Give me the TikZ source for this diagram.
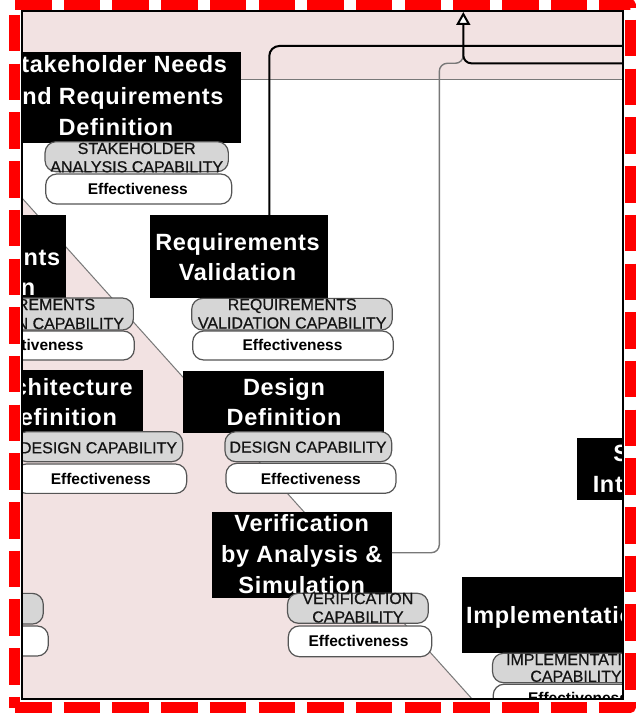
\documentclass[tikz,border=0pt]{standalone}
\usepackage{fontspec}
\setmainfont{Liberation Sans}
\newfontfamily\titlefam[LetterSpace=3.0]{Liberation Sans}
\newfontfamily\capfam[FakeBold=0.6]{Liberation Sans}
\usetikzlibrary{arrows.meta,calc}

\definecolor{bandpink}{RGB}{242,226,226}
\definecolor{capfill}{RGB}{214,214,214}
\definecolor{boxedge}{RGB}{85,85,85}
\definecolor{captxt}{RGB}{20,20,20}
\definecolor{zoneline}{RGB}{120,120,120}
\definecolor{feedline}{RGB}{120,120,120}
\definecolor{selred}{RGB}{255,0,0}

\tikzset{
  procbox/.style={fill=black, draw=none, inner sep=0pt},
  proctext/.style={text=white, inner sep=0pt, anchor=base},
  capbox/.style={fill=capfill, draw=boxedge, line width=1.2pt, rounded corners=11pt, inner sep=0pt},
  captext/.style={text=captxt, inner sep=0pt, anchor=base},
  effbox/.style={fill=white, draw=boxedge, line width=1.2pt, rounded corners=11pt, inner sep=0pt},
  efftext/.style={text=black, inner sep=0pt, anchor=base, font=\bfseries\fontsize{15.5}{18}\selectfont},
  flow/.style={draw=black, line width=2pt},
  feedback/.style={draw=feedline, line width=1.4pt},
  selborder/.style={draw=selred, line width=11pt},
  seldash/.style={selborder, dash pattern=on 36.5pt off 12.2pt},
}

% black process box: name, cx, cy, width, height
\newcommand\procbox[5]{\node[procbox, minimum width=#4pt, minimum height=#5pt] (#1) at (#2,#3) {};}
% process title: [line spacing], name, cx, first baseline, lines
\newcommand\proctitle[5][30.5]{\node[proctext, font=\titlefam\bfseries\fontsize{23.5}{#1}\selectfont] (#2) at (#3,#4) {\begin{tabular}[t]{@{}c@{}}#5\end{tabular}};}
% grey capability box, text clipped to its outline:
% [line spacing], name, cx, cy, width, height, text cx, first baseline, lines
\newcommand\capbox[9][18.6]{%
  \node[capbox, minimum width=#5pt, minimum height=#6pt] (#2) at (#3,#4) {};
  \begin{scope}
    \clip[rounded corners=11pt] (#2.south west) rectangle (#2.north east);
    \node[captext, font=\capfam\fontsize{16}{#1}\selectfont] (#2-t) at (#7,#8) {\begin{tabular}[t]{@{}c@{}}#9\end{tabular}};
  \end{scope}}
% white effectiveness box: name, cx, cy, width, height, text cx, baseline, text
\newcommand\effbox[8]{%
  \node[effbox, minimum width=#4pt, minimum height=#5pt] (#1) at (#2,#3) {};
  \node[efftext] (#1-t) at (#6,#7) {#8};}

\begin{document}
\begin{tikzpicture}[x=1pt,y=-1pt]
\useasboundingbox (0,0) rectangle (641,714);
\fill[white] (0,0) rectangle (641,714);

\begin{scope}
  \clip (21.8,11) rectangle (623,699.3);

  % swim-lane shading
  \fill[bandpink] (21.8,11) rectangle (623,80);
  \draw[zoneline, line width=1pt] (21.8,80) -- (623,80);
  \fill[bandpink] (-10,162.4) -- (490,718.9) -- (-10,718.9) -- cycle;
  \draw[zoneline, line width=1pt] (-10,162.4) -- (490,718.9);

  % Stakeholder Needs and Requirements Definition
  \procbox{snrd}{114.9}{97.5}{251.7}{90.4}
  \proctitle[31.6]{snrd-t}{116}{72.7}{Stakeholder Needs\\and Requirements\\Definition}
  \capbox[18.3]{snrd-c}{136.7}{156.7}{183.3}{30}{136.7}{154}{STAKEHOLDER\\ANALYSIS CAPABILITY}
  \effbox{snrd-e}{138.7}{189}{186}{30}{137.8}{194}{Effectiveness}

  % System Requirements Definition
  \procbox{srd}{-22}{256.5}{175.4}{83}
  \proctitle{srd-t}{-22}{265}{Requirements\\Definition}
  \capbox[19]{srd-c}{30.7}{314}{205.3}{32}{30.7}{310}{REQUIREMENTS\\DEFINITION CAPABILITY}
  \effbox{srd-e}{33.5}{345.5}{201.6}{29}{33.5}{350}{Effectiveness}

  % Requirements Validation
  \procbox{rv}{239.2}{256.7}{178.3}{83.3}
  \proctitle{rv-t}{237.5}{250}{Requirements\\Validation}
  \capbox[18.5]{rv-c}{292}{314.2}{200.6}{31.7}{292.2}{310}{REQUIREMENTS\\VALIDATION CAPABILITY}
  \effbox{rv-e}{293}{345.5}{200.6}{29}{292.5}{350}{Effectiveness}

  % Architecture Definition
  \procbox{ad}{58}{400.8}{169.4}{61.7}
  \proctitle{ad-t}{59.5}{395}{Architecture\\Definition}
  \capbox{ad-c}{99.3}{446.7}{166.7}{30}{98.5}{453.3}{DESIGN CAPABILITY}
  \effbox{ad-e}{100.8}{478.7}{171.7}{29.3}{100.8}{484}{Effectiveness}

  % Design Definition
  \procbox{dd}{283.7}{402.2}{200.7}{62.3}
  \proctitle{dd-t}{284}{395}{Design\\Definition}
  \capbox{dd-c}{308.3}{446.7}{166.7}{30}{308}{452.7}{DESIGN CAPABILITY}
  \effbox{dd-e}{311}{478.3}{170}{30}{310.8}{484}{Effectiveness}

  % Verification by Analysis & Simulation
  \procbox{vas}{302}{555}{179.4}{86.6}
  \proctitle[30.8]{vas-t}{301.7}{531.7}{Verification\\by Analysis \&\\Simulation}
  \capbox[18.5]{vas-c}{357.9}{608.3}{140.8}{30}{357.9}{604}{VERIFICATION\\CAPABILITY}
  \effbox{vas-e}{360}{641.3}{143.4}{30.7}{358.6}{646}{Effectiveness}

  % capability pair cut by the left edge
  \node[capbox, minimum width=163.3pt, minimum height=30.7pt] (lc-c) at (-38.35,608.7) {};
  \node[effbox, minimum width=170pt, minimum height=30pt] (lc-e) at (-36.7,641) {};

  % System Integration
  \procbox{si}{657}{469.2}{160.6}{61.7}
  \proctitle{si-t}{657}{461.7}{System\\Integration}

  % Implementation
  \procbox{impl}{557.5}{615.3}{191.6}{76}
  \proctitle{impl-t}{557.5}{623.3}{Implementation}
  \capbox[16.8]{impl-c}{575}{668}{165}{29.4}{576}{665}{IMPLEMENTATION\\CAPABILITY}
  \effbox{impl-e}{577.7}{699.2}{169}{30}{578}{703}{Effectiveness}

  % connectors
  \coordinate (rvout) at (640,46);
  \coordinate (mergein) at (640,63.3);
  \coordinate (tip) at (463.3,12);
  \draw[feedback, rounded corners=8pt] ($(vas.east)+(0,-2.3)$) -| (439.3,63.3) -| (463.3,50);
  \draw[flow, rounded corners=10pt] (269.3,0 |- rv.north) |- (rvout);
  \draw[flow, rounded corners=8pt, -{Triangle[length=13pt,width=14pt,fill=white]}] (mergein) -| (tip);
\end{scope}

% frame
\draw[black, line width=2.2pt] (21.8,11) rectangle (623,699.3);

% dashed selection outline
\draw[seldash] (15,4.5) -- (590,4.5);
\draw[seldash] (630,20) -- (630,695);
\draw[seldash] (14,15) -- (14,707.5);
\draw[seldash] (15,707.5) -- (590,707.5);
\draw[selborder, line join=round] (599.4,4.5) -- (630,4.5) -- (630,7.8);
\draw[selborder, line join=round] (599.4,707.5) -- (630,707.5) -- (630,701.8);
\end{tikzpicture}
\end{document}
